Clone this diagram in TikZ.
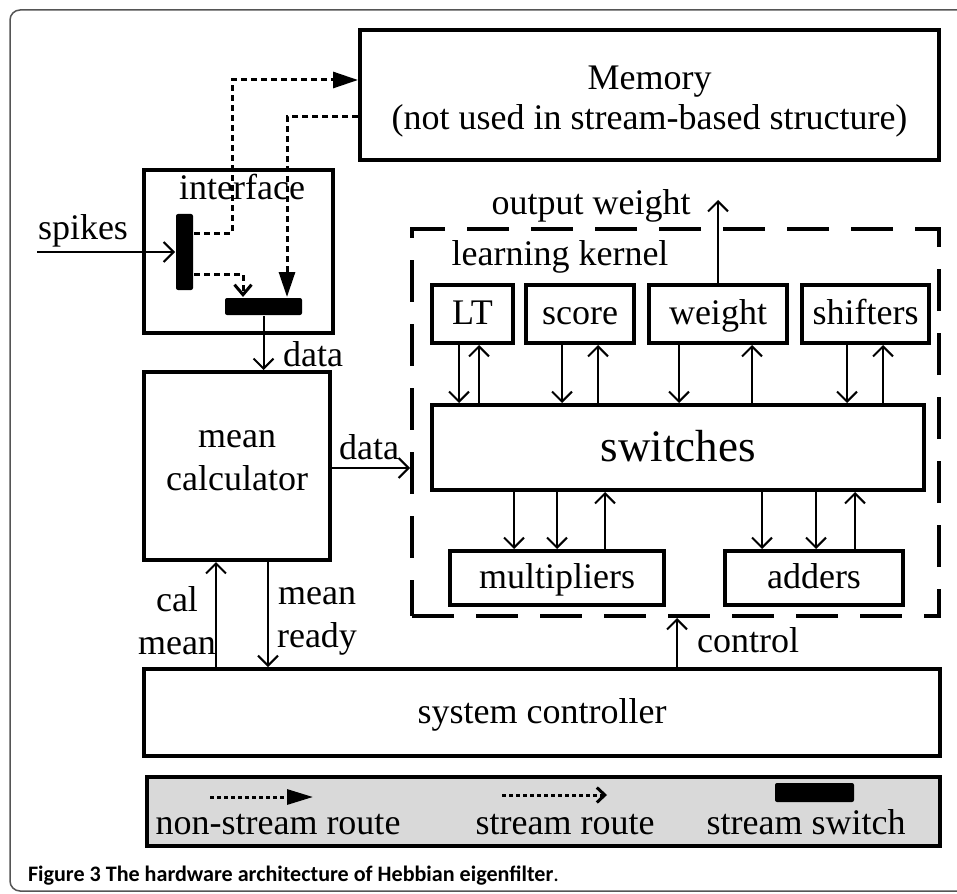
\documentclass[tikz,border=0pt]{standalone}
\usepackage{fontspec}
\setmainfont{Liberation Serif}
\newfontfamily\capfont{Carlito}
\usepackage{xcolor}
\definecolor{keygray}{HTML}{D9D9D9}
\definecolor{framegray}{HTML}{555555}
\usetikzlibrary{arrows.meta,positioning}

\begin{document}
\begin{tikzpicture}[x=1pt,y=-1pt,line width=2pt,>={Straight Barb[length=10pt,width=20pt]}]
  \tikzstyle{box}=[draw,line width=4pt,inner sep=0pt,align=center,font=\fontsize{36}{40}\selectfont]
  \tikzstyle{blk}=[box,text height=27pt,text depth=5.5pt]
  \tikzstyle{sw}=[fill=black,rounded corners=2pt,inner sep=0pt]
  \tikzstyle{mlbl}=[inner sep=0pt,align=center,font=\fontsize{36}{40}\selectfont]
  \tikzstyle{lbl}=[inner sep=0pt,font=\fontsize{36}{40}\selectfont,text height=27pt,text depth=5.5pt]
  \tikzstyle{route}=[line width=3pt,dash pattern=on 6pt off 4pt]
  \tikzstyle{nsroute}=[route,-{Triangle[length=25pt,width=16pt]}]
  \tikzstyle{sroute}=[route,-{Straight Barb[length=10pt,width=17pt]}]

  \useasboundingbox (0,0) rectangle (957,893);
  \begin{scope}
    \clip (0,0) rectangle (957,893);
    \draw[framegray,line width=1.5pt,rounded corners=10pt] (10,10) rectangle (975,891);
  \end{scope}

  % memory and interface
  \node[box,minimum width=579pt,minimum height=130pt] (mem) at (649.5,95) {};
  \node[mlbl] (memtext) at (649.5,102) {Memory\\(not used in stream-based structure)};
  \node[box,minimum width=189pt,minimum height=163pt] (iface) at (238.5,251.5) {};
  \node[lbl] (iflabel) at (242,189) {interface};
  \node[sw,minimum width=17pt,minimum height=76pt] (vsw) at (184.5,252) {};
  \node[sw,minimum width=77pt,minimum height=17pt] (hsw) at (263.5,306.5) {};
  \coordinate (spin) at (37,252);
  \node[lbl] (spikes) at (83,229) {spikes};

  % mean calculator and controller
  \node[box,minimum width=186pt,minimum height=188pt] (meancalc) at (237,466) {};
  \node[mlbl,font=\fontsize{36}{43}\selectfont] (mctext) at (237,461) {mean\\calculator};
  \node[blk,minimum width=796pt,minimum height=87pt] (syscon) at (542,712.5) {system controller};

  % learning kernel
  \node[draw,line width=4pt,dash pattern=on 42pt off 22pt,minimum width=527pt,minimum height=387pt] (lk) at (675.5,422.5) {};
  \node[lbl] (lklabel) at (560,255) {learning kernel};
  \node[blk,minimum width=81pt,minimum height=58pt] (LT) at (472.5,314) {LT};
  \node[blk,minimum width=108pt,minimum height=58pt] (score) at (580,314) {score};
  \node[blk,minimum width=138pt,minimum height=58pt] (weight) at (718,314) {weight};
  \node[blk,minimum width=127pt,minimum height=58pt] (shifters) at (865.5,314) {shifters};
  \node[blk,minimum width=492pt,minimum height=85pt,font=\fontsize{45}{50}\selectfont,text height=34pt,text depth=7pt] (switches) at (678,447.5) {switches};
  \node[blk,minimum width=214pt,minimum height=54pt] (mult) at (557,578) {multipliers};
  \node[blk,minimum width=178pt,minimum height=54pt] (adders) at (814,578) {adders};

  % labels
  \node[lbl] (data1) at (313,356) {data};
  \node[lbl] (data2) at (369,449) {data};
  \node[mlbl,font=\fontsize{36}{43}\selectfont] (calmean) at (177,621) {cal\\mean};
  \node[mlbl,font=\fontsize{36}{43}\selectfont] (meanready) at (317,621) {mean\\ready};
  \node[lbl] (control) at (748,642) {control};
  \node[lbl] (outw) at (591,204) {output weight};

  % routes
  \draw[nsroute] (vsw.east |- 0,233) -| (232,80) -- (mem.west |- 0,80);
  \draw[nsroute] (mem.west |- 0,117) -| (hsw.north -| 287,0);
  \draw[sroute] (vsw.east |- 0,274) -| (hsw.north -| 243,0);

  % connectors
  \draw[->] (spin) -- (vsw.west);
  \draw[->] (hsw.south) -- (meancalc.north -| hsw.south);
  \draw[->] (meancalc.east |- 0,468) -- (lk.west |- 0,468);
  \draw[->] (syscon.north -| 216,0) -- (meancalc.south -| 216,0);
  \draw[->] (meancalc.south -| 268,0) -- (syscon.north -| 268,0);
  \draw[->] (syscon.north -| 677,0) -- (lk.south -| 677,0);
  \draw[->] (weight.north) -- (weight.north |- 0,200);
  \foreach \x/\b in {459/LT,562/score,679/weight,847/shifters}
    \draw[->] (\x,0 |- \b.south) -- (\x,0 |- switches.north);
  \foreach \x/\b in {479/LT,598/score,752/weight,883/shifters}
    \draw[->] (\x,0 |- switches.north) -- (\x,0 |- \b.south);
  \foreach \x/\b in {514/mult,557/mult,762/adders,816/adders}
    \draw[->] (\x,0 |- switches.south) -- (\x,0 |- \b.north);
  \foreach \x/\b in {605/mult,855/adders}
    \draw[->] (\x,0 |- \b.north) -- (\x,0 |- switches.south);

  % legend
  \node[draw,line width=4pt,fill=keygray,minimum width=793pt,minimum height=69pt] (legend) at (543.5,811.5) {};
  \coordinate (nsA) at (210,797);
  \coordinate (nsB) at (313,797);
  \coordinate (sA) at (502,795);
  \coordinate (sB) at (607,795);
  \draw[route,dash pattern=on 4pt off 3pt,-{Triangle[length=26pt,width=15pt]}] (nsA) -- (nsB);
  \draw[route,dash pattern=on 4pt off 3pt,-{Straight Barb[length=8pt,width=15pt]}] (sA) -- (sB);
  \node[sw,minimum width=79pt,minimum height=19pt] (swkey) at (814.5,792.5) {};
  \node[lbl] (nslbl) at (278,824) {non-stream route};
  \node[lbl] (slbl) at (565,824) {stream route};
  \node[lbl] (swlbl) at (806,824) {stream switch};

  % caption
  \node[anchor=west,inner sep=0pt,font=\capfont\bfseries\fontsize{22.1}{24}\selectfont] (cap) at (27,876) {Figure 3 The hardware architecture of Hebbian eigenfilter{\mdseries.}};
\end{tikzpicture}
\end{document}
